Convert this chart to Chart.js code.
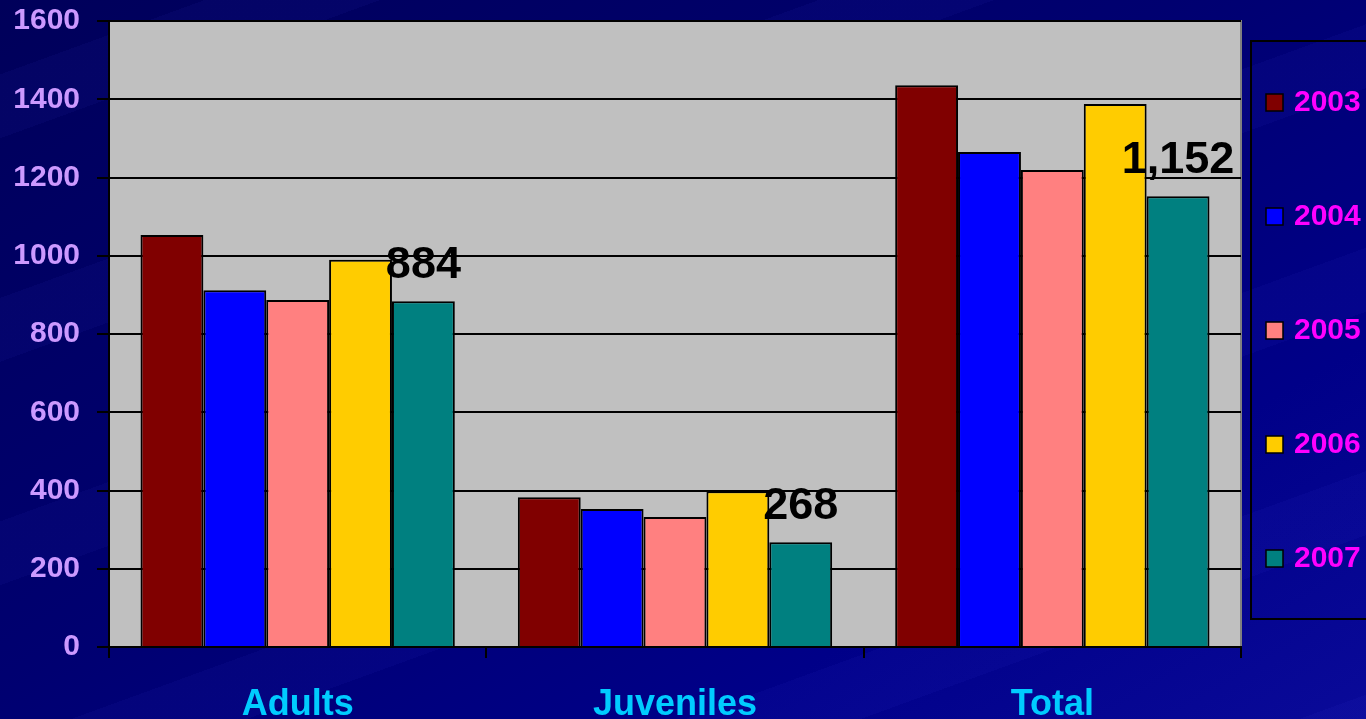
<!DOCTYPE html>
<html>
<head>
<meta charset="utf-8">
<script src="https://cdn.jsdelivr.net/npm/chart.js@4.4.0/dist/chart.umd.min.js"></script>
<style>
  html, body { margin: 0; padding: 0; }
  body {
    width: 1366px; height: 719px; overflow: hidden;
    background:
      repeating-linear-gradient(160deg, rgba(80,80,255,0) 0 70px, rgba(80,80,255,0.05) 70px 130px, rgba(80,80,255,0) 130px 210px),
      linear-gradient(150deg, #00005a 0%, #000070 45%, #000088 75%, #0a0a99 100%);
  }
  #wrap { position: absolute; left: 0; top: 0; width: 1366px; height: 719px; }
</style>
</head>
<body>
<div id="wrap"><canvas id="chart" width="1366" height="719"></canvas></div>
<script>
const categories = ['Adults', 'Juveniles', 'Total'];
const years = ['2003', '2004', '2005', '2006', '2007'];
const values2003 = [1053, 383, 1436];
const values2004 = [912, 353, 1265];
const values2005 = [887, 332, 1219];
const values2006 = [990, 398, 1388];
const values2007 = [884, 268, 1152];
const yearColors = ['#800000', '#0000ff', '#ff8080', '#ffcc00', '#008080'];
const yTicks = [0, 200, 400, 600, 800, 1000, 1200, 1400, 1600];
const labelledYear = '2007';

const allValues = [values2003, values2004, values2005, values2006, values2007];
const FONT = 'Arial, "Liberation Sans", sans-serif';

// grey plot area behind the bars
const plotBackground = {
  id: 'plotBackground',
  beforeDraw(chart) {
    const { ctx, chartArea: a } = chart;
    ctx.save();
    ctx.fillStyle = '#c0c0c0';
    ctx.fillRect(a.left, a.top, a.right - a.left, a.bottom - a.top);
    ctx.strokeStyle = '#808080';
    ctx.lineWidth = 2;
    ctx.beginPath();
    ctx.moveTo(a.left, a.top);
    ctx.lineTo(a.right, a.top);
    ctx.lineTo(a.right, a.bottom);
    ctx.stroke();
    ctx.restore();
  }
};

// big value labels above the 2007 bars
const valueLabels = {
  id: 'valueLabels',
  afterDatasetsDraw(chart) {
    const { ctx } = chart;
    const i = chart.data.datasets.findIndex(d => d.label === labelledYear);
    const meta = chart.getDatasetMeta(i);
    ctx.save();
    ctx.font = 'bold 45px ' + FONT;
    ctx.fillStyle = '#000';
    ctx.textAlign = 'center';
    ctx.textBaseline = 'alphabetic';
    meta.data.forEach((bar, j) => {
      const v = chart.data.datasets[i].data[j];
      ctx.fillText(v.toLocaleString('en-US'), bar.x, bar.y - 23);
    });
    ctx.restore();
  }
};

// boxed legend on the right
const sideLegend = {
  id: 'sideLegend',
  afterDraw(chart) {
    const { ctx } = chart;
    ctx.save();
    ctx.strokeStyle = '#000';
    ctx.lineWidth = 2;
    ctx.strokeRect(1251, 41, 130, 578);
    ctx.font = 'bold 30px ' + FONT;
    ctx.textBaseline = 'middle';
    chart.data.datasets.forEach((ds, k) => {
      const cy = 102 + k * 114;
      ctx.fillStyle = ds.backgroundColor;
      ctx.fillRect(1266, cy - 8, 17, 17);
      ctx.lineWidth = 1.5;
      ctx.strokeRect(1266, cy - 8, 17, 17);
      ctx.fillStyle = '#ff00ff';
      ctx.fillText(ds.label, 1294, cy + 1);
    });
    ctx.restore();
  }
};

const ctx = document.getElementById('chart').getContext('2d');
const chart = new Chart(ctx, {
  type: 'bar',
  data: {
    labels: categories,
    datasets: years.map((y, k) => ({
      label: y,
      data: allValues[k],
      backgroundColor: yearColors[k],
      borderColor: '#000',
      borderWidth: 2,
      categoryPercentage: 0.833,
      barPercentage: 1,
    })),
  },
  options: {
    responsive: false,
    animation: false,
    layout: { padding: { top: 21, right: 125, left: 0, bottom: 0 } },
    plugins: {
      legend: { display: false },
      title: { display: false },
      tooltip: { enabled: false },
    },
    scales: {
      x: {
        grid: { drawOnChartArea: false, drawTicks: true, tickLength: 11, color: '#000', lineWidth: 2 },
        border: { display: true, color: '#000', width: 2 },
        ticks: { color: '#00ccff', font: { family: FONT, size: 36, weight: 'bold' }, padding: 25 },
        afterFit(scale) {
          scale.height = 72;
          scale.paddingLeft = 0;
          scale.paddingRight = 0;
        },
      },
      y: {
        min: 0,
        max: 1600,
        afterBuildTicks(scale) { scale.ticks = yTicks.map(v => ({ value: v })); },
        grid: { color: '#000', lineWidth: 2, tickLength: 12 },
        border: { display: true, color: '#000', width: 2 },
        ticks: {
          color: '#cc99ff',
          font: { family: FONT, size: 30, weight: 'bold' },
          padding: 17,
          callback: v => String(v),
        },
        afterFit(scale) {
          scale.width = 109;
          scale.paddingTop = 0;
          scale.paddingBottom = 0;
        },
      },
    },
  },
  plugins: [plotBackground, valueLabels, sideLegend],
});
</script>
</body>
</html>
